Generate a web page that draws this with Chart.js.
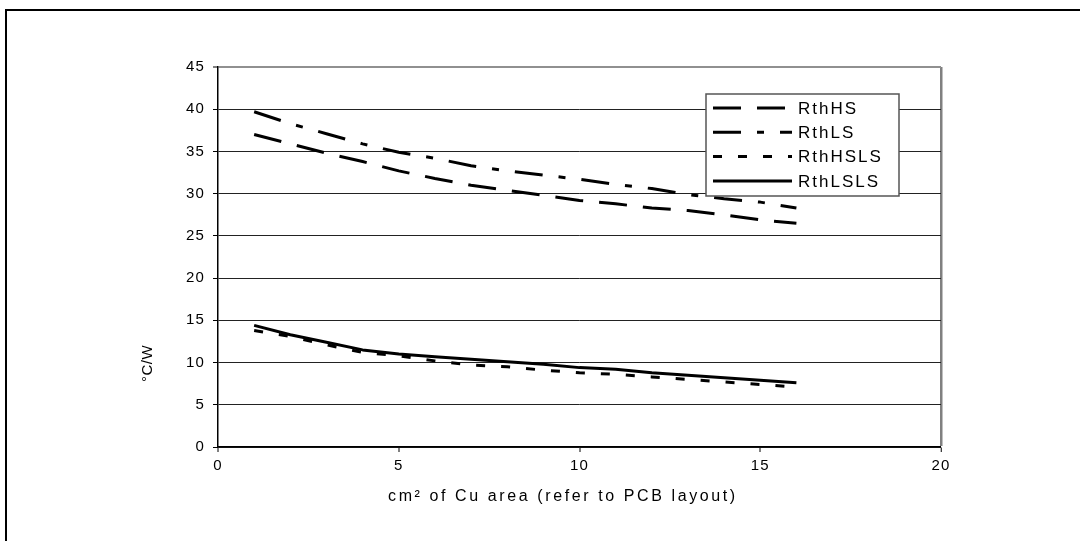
<!DOCTYPE html>
<html>
<head>
<meta charset="utf-8">
<script src="https://cdn.jsdelivr.net/npm/chart.js@4"></script>
<style>
  html, body { margin: 0; padding: 0; background: #fff; }
  #wrap { position: relative; width: 1080px; height: 541px; overflow: hidden; }
  #frame { position: absolute; left: 5px; top: 9px; width: 1200px; height: 700px;
           border-left: 2px solid #000; border-top: 2px solid #000; }
  canvas { position: absolute; left: 0; top: 0; }
</style>
</head>
<body>
<div id="wrap">
  <div id="frame"></div>
  <canvas id="c" width="1080" height="541"></canvas>
</div>
<script>
// ---- data ----
const area = [1, 2, 3, 4, 5, 6, 7, 8, 9, 10, 11, 12, 13, 14, 15, 16];
const rthHS   = [37.0, 35.9, 34.8, 33.8, 32.7, 31.8, 31.0, 30.4, 29.8, 29.2, 28.8, 28.3, 28.0, 27.5, 26.9, 26.5];
const rthLS   = [39.7, 38.3, 37.1, 35.9, 34.9, 34.2, 33.3, 32.7, 32.2, 31.7, 31.1, 30.6, 29.9, 29.4, 29.0, 28.3];
const rthHSLS = [13.8, 13.1, 12.1, 11.2, 10.8, 10.2, 9.7, 9.5, 9.1, 8.8, 8.6, 8.3, 8.0, 7.7, 7.4, 7.1];
const rthLSLS = [14.4, 13.3, 12.4, 11.5, 11.0, 10.7, 10.4, 10.1, 9.8, 9.4, 9.2, 8.8, 8.5, 8.2, 7.9, 7.6];
const seriesNames = ['RthHS', 'RthLS', 'RthHSLS', 'RthLSLS'];
const yTicks = [0, 5, 10, 15, 20, 25, 30, 35, 40, 45];
const xTicks = [0, 5, 10, 15, 20];
const xTitle = 'cm\u00B2 of Cu area (refer to PCB layout)';
const yTitle = '\u00B0C/W';

const FONT = "'Liberation Sans', Arial, sans-serif";
const pts = (ys) => area.map((x, i) => ({ x: x, y: ys[i] }));

const styles = [
  { dash: [28, 16] },
  { dash: [28, 16, 7, 16] },
  { dash: [9, 16] },
  { dash: [] }
];
const allSeries = [rthHS, rthLS, rthHSLS, rthLSLS];

const datasets = allSeries.map((s, i) => ({
  label: seriesNames[i],
  data: pts(s),
  borderColor: '#000',
  backgroundColor: '#000',
  borderWidth: 3,
  borderDash: styles[i].dash,
  borderCapStyle: 'butt',
  borderJoinStyle: 'round',
  pointRadius: 0,
  tension: 0,
  fill: false
}));

const spacingPlugin = {
  id: 'spacing',
  beforeDraw(chart) { chart.ctx.letterSpacing = '1.2px'; }
};

const titlesPlugin = {
  id: 'axisTitles',
  afterDraw(chart) {
    const ctx = chart.ctx;
    const area = chart.chartArea;
    ctx.save();
    ctx.fillStyle = '#000';
    ctx.textBaseline = 'middle';
    ctx.textAlign = 'center';
    // x title
    ctx.font = '16px ' + FONT;
    ctx.letterSpacing = '2.6px';
    ctx.fillText(xTitle, area.left + (area.right - area.left) * 0.477, 497);
    // y title
    ctx.font = '15px ' + FONT;
    ctx.letterSpacing = '0.5px';
    ctx.translate(148, area.top + (area.bottom - area.top) * 0.78);
    ctx.rotate(-Math.PI / 2);
    ctx.fillText(yTitle, 0, 0);
    ctx.restore();
  }
};

const legendPlugin = {
  id: 'boxLegend',
  afterDatasetsDraw(chart) {
    const ctx = chart.ctx;
    const bx = 706, by = 94, bw = 193, bh = 102;
    ctx.save();
    ctx.fillStyle = '#fff';
    ctx.fillRect(bx, by, bw, bh);
    ctx.strokeStyle = '#555';
    ctx.lineWidth = 1.5;
    ctx.strokeRect(bx, by, bw, bh);
    chart.data.datasets.forEach((ds, i) => {
      const y = by + 14 + i * 24.3;
      ctx.beginPath();
      ctx.setLineDash(ds.borderDash);
      ctx.lineDashOffset = 0;
      ctx.lineCap = 'butt';
      ctx.strokeStyle = ds.borderColor;
      ctx.lineWidth = ds.borderWidth;
      ctx.moveTo(713, y);
      ctx.lineTo(792, y);
      ctx.stroke();
      ctx.setLineDash([]);
      ctx.fillStyle = '#000';
      ctx.font = '17px ' + FONT;
      ctx.letterSpacing = '2px';
      ctx.textAlign = 'left';
      ctx.textBaseline = 'middle';
      ctx.fillText(ds.label, 798, y + 1);
    });
    ctx.restore();
  }
};

new Chart(document.getElementById('c'), {
  type: 'line',
  data: { datasets: datasets },
  plugins: [spacingPlugin, legendPlugin, titlesPlugin],
  options: {
    responsive: false,
    animation: false,
    events: [],
    layout: { padding: { top: 67, right: 139, left: 133, bottom: 36 } },
    plugins: { legend: { display: false }, tooltip: { enabled: false }, title: { display: false } },
    scales: {
      x: {
        type: 'linear',
        min: 0, max: 20,
        afterFit(scale) { scale.height = 58; },
        afterBuildTicks(scale) { scale.ticks = xTicks.map(v => ({ value: v })); },
        ticks: { color: '#000', font: { family: FONT, size: 15 }, padding: 5, maxRotation: 0 },
        grid: {
          drawOnChartArea: true,
          color: (c) => (c.tick && c.tick.value === 20) ? '#808080' : 'rgba(0,0,0,0)',
          lineWidth: (c) => (c.tick && c.tick.value === 20) ? 2.5 : 0,
          tickColor: '#000', tickLength: 5, tickWidth: 1
        },
        border: { color: '#000', width: 1.5 },
        title: { display: false }
      },
      y: {
        type: 'linear',
        min: 0, max: 45,
        afterFit(scale) { scale.width = 85; },
        afterBuildTicks(scale) { scale.ticks = yTicks.map(v => ({ value: v })); },
        ticks: { color: '#000', font: { family: FONT, size: 15 }, padding: 8 },
        grid: {
          color: (c) => (c.tick && c.tick.value === 45) ? '#909090' : '#222',
          lineWidth: (c) => (c.tick && c.tick.value === 45) ? 2 : 1,
          tickColor: '#000', tickLength: 5, tickWidth: 1
        },
        border: { color: '#000', width: 1.5 },
        title: { display: false }
      }
    }
  }
});
</script>
</body>
</html>
